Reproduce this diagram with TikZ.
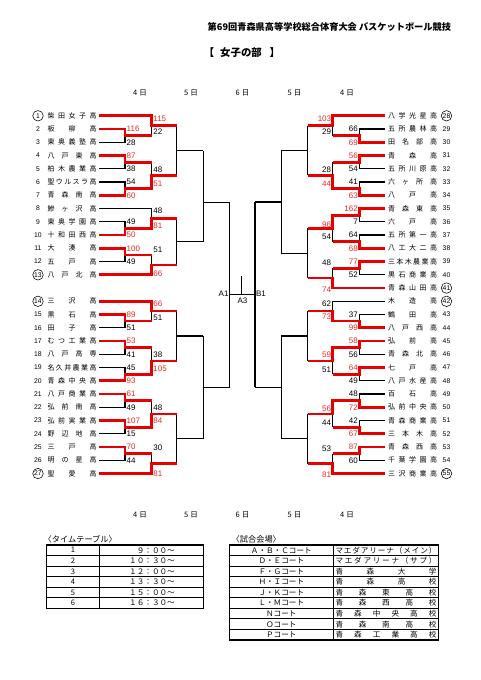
\documentclass[tikz,border=0pt]{standalone}
\usepackage{fontspec}
\setmainfont{Liberation Sans}
\newfontfamily\jp{Noto Sans CJK JP}
\definecolor{wr}{RGB}{232,0,0}
\definecolor{sr}{RGB}{238,40,40}
\def\spr#1{\sprA#1\sprEnd}
\def\sprA#1#2\sprEnd{#1\ifx\relax#2\relax\else\hfill\sprA#2\sprEnd\fi}
\newcommand\sprx[1]{\expandafter\spr\expandafter{#1}}
\newcommand\nmL[1]{\makebox[49pt][s]{\spr{#1}}}
\tikzset{
  bl/.style={line width=1.2pt, draw=black},
  rd/.style={line width=2.7pt, draw=wr, line join=miter},
  tnum/.style={font=\fontsize{6.8}{7}\selectfont, inner sep=0pt},
  cnum/.style={draw, circle, line width=0.55pt, minimum size=10.5pt, inner sep=0.3pt},
  tname/.style={font=\jp\fontsize{7}{8}\selectfont, inner sep=0pt},
  labanc/.style={anchor=west},
  lab/.style={font=\fontsize{8}{8}\selectfont, inner sep=0pt, labanc},
  rs/.style={text=sr},
  day/.style={font=\jp\fontsize{7.5}{8}\selectfont, inner sep=0pt},
  tbl/.style={line width=0.8pt, draw=black},
  tblo/.style={line width=1.1pt, draw=black},
  ttxt/.style={font=\jp\fontsize{7.6}{8}\selectfont, inner sep=0pt},
  subt/.style={font=\jp\bfseries\fontsize{10.4}{11}\selectfont, inner sep=0pt},
}
\def\xs{99.3}\def\xa{125}\def\xb{151.7}\def\xc{176.7}\def\xd{203.3}\def\xe{229.5}
\newcommand\team[3]{\node[tnum] (n#1) at (38,#3) {#1};\node[tname] (t#1) at (72,#3) {\nmL{#2}};}
\newcommand\cteam[3]{\node[tnum,cnum] (n#1) at (38,#3) {#1};\node[tname] (t#1) at (72,#3) {\nmL{#2}};}
\newcommand\bye[1]{\draw[bl] (\xs,#1) -- (\xb,#1);}
\newcommand\rone[3]{\draw[bl] (\xs,#1) -- (\xa,#1) -- (\xa,#2) -- (\xs,#2) (\xa,#3) -- (\xb,#3);}
\newcommand\rtwo[3]{\draw[bl] (\xb,#1) -- (\xb,#2) (\xb,#3) -- (\xc,#3);}
\newcommand\rthree[3]{\draw[bl] (\xc,#1) -- (\xc,#2) (\xc,#3) -- (\xd,#3);}
\newcommand\rfour[3]{\draw[bl] (\xd,#1) -- (\xd,#2) (\xd,#3) -- (\xe,#3);}
\newcommand\sa[2]{\node[lab] at (\xa+1.5,#1) {#2};}
\newcommand\sar[2]{\node[lab,rs] at (\xa+1.5,#1) {#2};}
\newcommand\sbb[2]{\node[lab] at (\xb+1.5,#1) {#2};}
\newcommand\sbr[2]{\node[lab,rs] at (\xb+1.5,#1) {#2};}
\begin{document}
\begin{tikzpicture}[x=1pt,y=-1pt]
\useasboundingbox (0,0) rectangle (481,680);
\fill[white] (0,0) rectangle (481,680);
% titles
\node[anchor=west, font=\jp\bfseries\fontsize{9.2}{10}\selectfont, inner sep=0pt] (title) at (207.5,26.7) {第69回青森県高等学校総合体育大会 バスケットボール競技};
\node[subt, anchor=west] (sub) at (220,52.7) {女子の部};
\node[subt, anchor=east] (subl) at (214.5,52.7) {【};
\node[subt, anchor=west] (subr) at (269.5,52.7) {】};
\foreach \x/\dd [count=\i] in {140/4,191/5,242.5/6,294.5/5,347/4}{
  \node[day] (dt\i) at (\x,93.3) {\dd\hspace{2pt}日};
  \node[day] (db\i) at (\x,515) {\dd\hspace{2pt}日};
}
% ================= LEFT SIDE =================
\begin{scope}
\cteam{1}{柴田女子高}{115.8}
\team{2}{板柳高}{129.05}
\team{3}{東奥義塾高}{142.3}
\team{4}{八戸東高}{155.55}
\team{5}{柏木農業高}{168.8}
\team{6}{聖ウルスラ高}{182.05}
\team{7}{青森南高}{195.3}
\team{8}{鰺ヶ沢高}{208.55}
\team{9}{東奥学園高}{221.8}
\team{10}{十和田西高}{235.05}
\team{11}{大湊高}{248.3}
\team{12}{五戸高}{261.55}
\cteam{13}{八戸北高}{274.8}
\cteam{14}{三沢高}{301.3}
\team{15}{黒石高}{314.55}
\team{16}{田子高}{327.8}
\team{17}{むつ工業高}{341.05}
\team{18}{八戸高専}{354.3}
\team{19}{名久井農業高}{367.55}
\team{20}{青森中央高}{380.8}
\team{21}{八戸商業高}{394.05}
\team{22}{弘前南高}{407.3}
\team{23}{弘前実業高}{420.55}
\team{24}{野辺地高}{433.8}
\team{25}{三戸高}{447.05}
\team{26}{明の星高}{460.3}
\cteam{27}{聖愛高}{473.55}
% black lines top
\bye{115.8}
\rone{129.05}{142.3}{135.675}
\rone{155.55}{168.8}{162.175}
\rone{182.05}{195.3}{188.675}
\bye{208.55}
\rone{221.8}{235.05}{228.425}
\rone{248.3}{261.55}{254.925}
\bye{274.8}
\rtwo{115.8}{135.675}{125.74}
\rtwo{162.175}{188.675}{175.425}
\rtwo{208.55}{228.425}{218.49}
\rtwo{254.925}{274.8}{264.86}
\rthree{125.74}{175.425}{150.58}
\rthree{218.49}{264.86}{241.68}
\rfour{150.58}{241.68}{202.5}
% black lines bottom
\bye{301.3}
\rone{314.55}{327.8}{320.925}
\rone{341.05}{354.3}{347.675}
\rone{367.55}{380.8}{374.175}
\rone{394.05}{407.3}{400.675}
\rone{420.55}{433.8}{427.175}
\rone{447.05}{460.3}{453.675}
\bye{473.55}
\rtwo{301.3}{320.925}{311.11}
\rtwo{347.675}{374.175}{360.925}
\rtwo{400.675}{427.175}{413.925}
\rtwo{453.675}{473.55}{463.61}
\rthree{311.11}{360.925}{336.02}
\rthree{413.925}{463.61}{438.77}
\rfour{336.02}{438.77}{387.39}
\draw[bl] (\xe,202.5) -- (\xe,387.39);
% red winner paths
\draw[rd] (\xs,115.8) -- (\xb,115.8) -- (\xb,125.74) -- (\xc,125.74);
\draw[rd] (\xs,129.05) -- (\xa,129.05) -- (\xa,135.675) -- (\xb,135.675);
\draw[rd] (\xs,155.55) -- (\xa,155.55) -- (\xa,162.175) -- (\xb,162.175);
\draw[rd] (\xs,195.3) -- (\xa,195.3) -- (\xa,188.675) -- (\xb,188.675) -- (\xb,175.425) -- (\xc,175.425);
\draw[rd] (\xs,235.05) -- (\xa,235.05) -- (\xa,228.425) -- (\xb,228.425) -- (\xb,218.49) -- (\xc,218.49);
\draw[rd] (\xs,248.3) -- (\xa,248.3) -- (\xa,254.925) -- (\xb,254.925);
\draw[rd] (\xs,274.8) -- (\xb,274.8) -- (\xb,264.86) -- (\xc,264.86);
\draw[rd] (\xs,301.3) -- (\xb,301.3) -- (\xb,311.11) -- (\xc,311.11);
\draw[rd] (\xs,314.55) -- (\xa,314.55) -- (\xa,320.925) -- (\xb,320.925);
\draw[rd] (\xs,341.05) -- (\xa,341.05) -- (\xa,347.675) -- (\xb,347.675);
\draw[rd] (\xs,380.8) -- (\xa,380.8) -- (\xa,374.175) -- (\xb,374.175) -- (\xb,360.925) -- (\xc,360.925);
\draw[rd] (\xs,394.05) -- (\xa,394.05) -- (\xa,400.675) -- (\xb,400.675);
\draw[rd] (\xs,420.55) -- (\xa,420.55) -- (\xa,427.175) -- (\xb,427.175) -- (\xb,413.925) -- (\xc,413.925);
\draw[rd] (\xs,447.05) -- (\xa,447.05) -- (\xa,453.675) -- (\xb,453.675);
\draw[rd] (\xs,473.55) -- (\xb,473.55) -- (\xb,463.61) -- (\xc,463.61);
% scores R1
\sar{129.05}{116}\sa{142.3}{28}
\sar{155.55}{87}\sa{168.8}{38}
\sa{182.05}{54}\sar{195.3}{60}
\sa{221.8}{49}\sar{235.05}{50}
\sar{248.3}{100}\sa{261.55}{49}
\sar{314.55}{89}\sa{327.8}{51}
\sar{341.05}{53}\sa{354.3}{41}
\sa{367.55}{45}\sar{380.8}{93}
\sar{394.05}{61}\sa{407.3}{49}
\sar{420.55}{107}\sa{433.8}{15}
\sar{447.05}{70}\sa{460.3}{44}
% scores R2
\sbr{118.3}{115}\sbb{131.7}{22}
\sbb{170}{48}\sbr{183.3}{51}
\sbb{210.3}{48}\sbr{225.3}{81}
\sbb{249.3}{51}\sbr{274}{66}
\sbr{304}{66}\sbb{317.3}{51}
\sbb{355}{38}\sbr{368.3}{105}
\sbb{407.7}{48}\sbr{421}{84}
\sbb{447.7}{30}\sbr{473.3}{81}
\end{scope}
% ================= RIGHT SIDE (mirrored) =================
\begin{scope}[shift={(484.5,0)}, xscale=-1, labanc/.style={anchor=east}]
\cteam{28}{八学光星高}{115.8}
\team{29}{五所農林高}{129.05}
\team{30}{田名部高}{142.3}
\team{31}{青森高}{155.55}
\team{32}{五所川原高}{168.8}
\team{33}{六ヶ所高}{182.05}
\team{34}{八戸高}{195.3}
\team{35}{青森東高}{208.55}
\team{36}{六戸高}{221.8}
\team{37}{五所第一高}{235.05}
\team{38}{八工大二高}{248.3}
\team{39}{三本木農業高}{261.55}
\team{40}{黒石商業高}{274.8}
\cteam{41}{青森山田高}{288.05}
\cteam{42}{木造高}{301.3}
\team{43}{鶴田高}{314.55}
\team{44}{八戸西高}{327.8}
\team{45}{弘前高}{341.05}
\team{46}{青森北高}{354.3}
\team{47}{七戸高}{367.55}
\team{48}{八戸水産高}{380.8}
\team{49}{百石高}{394.05}
\team{50}{弘前中央高}{407.3}
\team{51}{青森商業高}{420.55}
\team{52}{三本木高}{433.8}
\team{53}{青森西高}{447.05}
\team{54}{千葉学園高}{460.3}
\cteam{55}{三沢商業高}{473.55}
% black lines top
\bye{115.8}
\rone{129.05}{142.3}{135.675}
\rone{155.55}{168.8}{162.175}
\rone{182.05}{195.3}{188.675}
\rone{208.55}{221.8}{215.175}
\rone{235.05}{248.3}{241.675}
\rone{261.55}{274.8}{268.175}
\bye{288.05}
\rtwo{115.8}{135.675}{125.74}
\rtwo{162.175}{188.675}{175.425}
\rtwo{215.175}{241.675}{228.425}
\rtwo{268.175}{288.05}{278.11}
\rthree{125.74}{175.425}{150.58}
\rthree{228.425}{278.11}{253.27}
\rfour{150.58}{253.27}{201.92}
% black lines bottom
\bye{301.3}
\rone{314.55}{327.8}{320.925}
\rone{341.05}{354.3}{347.675}
\rone{367.55}{380.8}{374.175}
\rone{394.05}{407.3}{400.675}
\rone{420.55}{433.8}{427.175}
\rone{447.05}{460.3}{453.675}
\bye{473.55}
\rtwo{301.3}{320.925}{311.11}
\rtwo{347.675}{374.175}{360.925}
\rtwo{400.675}{427.175}{413.925}
\rtwo{453.675}{473.55}{463.61}
\rthree{311.11}{360.925}{336.02}
\rthree{413.925}{463.61}{438.77}
\rfour{336.02}{438.77}{387.39}
\draw[bl] (\xe,201.92) -- (\xe,387.39);
% red winner paths
\draw[rd] (\xs,115.8) -- (\xb,115.8) -- (\xb,125.74) -- (\xc,125.74);
\draw[rd] (\xs,142.3) -- (\xa,142.3) -- (\xa,135.675) -- (\xb,135.675);
\draw[rd] (\xs,155.55) -- (\xa,155.55) -- (\xa,162.175) -- (\xb,162.175);
\draw[rd] (\xs,195.3) -- (\xa,195.3) -- (\xa,188.675) -- (\xb,188.675) -- (\xb,175.425) -- (\xc,175.425);
\draw[rd] (\xs,208.55) -- (\xa,208.55) -- (\xa,215.175) -- (\xb,215.175) -- (\xb,228.425) -- (\xc,228.425);
\draw[rd] (\xs,248.3) -- (\xa,248.3) -- (\xa,241.675) -- (\xb,241.675);
\draw[rd] (\xs,261.55) -- (\xa,261.55) -- (\xa,268.175) -- (\xb,268.175);
\draw[rd] (\xs,288.05) -- (\xb,288.05) -- (\xb,278.11) -- (\xc,278.11);
\draw[rd] (\xs,327.8) -- (\xa,327.8) -- (\xa,320.925) -- (\xb,320.925) -- (\xb,311.11) -- (\xc,311.11);
\draw[rd] (\xs,341.05) -- (\xa,341.05) -- (\xa,347.675) -- (\xb,347.675) -- (\xb,360.925) -- (\xc,360.925);
\draw[rd] (\xs,367.55) -- (\xa,367.55) -- (\xa,374.175) -- (\xb,374.175);
\draw[rd] (\xs,407.3) -- (\xa,407.3) -- (\xa,400.675) -- (\xb,400.675) -- (\xb,413.925) -- (\xc,413.925);
\draw[rd] (\xs,433.8) -- (\xa,433.8) -- (\xa,427.175) -- (\xb,427.175);
\draw[rd] (\xs,447.05) -- (\xa,447.05) -- (\xa,453.675) -- (\xb,453.675);
\draw[rd] (\xs,473.55) -- (\xb,473.55) -- (\xb,463.61) -- (\xc,463.61);
% scores R1
\sa{129.05}{66}\sar{142.3}{69}
\sar{155.55}{56}\sa{168.8}{54}
\sa{182.05}{41}\sar{195.3}{63}
\sar{208.55}{162}\sa{221.8}{7}
\sa{235.05}{64}\sar{248.3}{68}
\sar{261.55}{77}\sa{274.8}{52}
\sa{314.55}{37}\sar{327.8}{99}
\sar{341.05}{58}\sa{354.3}{56}
\sar{367.55}{64}\sa{380.8}{49}
\sa{394.05}{48}\sar{407.3}{72}
\sa{420.55}{42}\sar{433.8}{67}
\sar{447.05}{87}\sa{460.3}{60}
% scores R2
\sbr{118.3}{103}\sbb{131.7}{29}
\sbb{170}{28}\sbr{183.3}{44}
\sbr{225}{96}\sbb{237}{54}
\sbb{262.7}{48}\sbr{290}{74}
\sbb{304}{62}\sbr{316.7}{73}
\sbr{355}{59}\sbb{369.3}{51}
\sbr{408.3}{56}\sbb{422.7}{44}
\sbb{448.3}{53}\sbr{475}{81}
\end{scope}
% ================= FINAL =================
\coordinate (A1) at (229.5,294.3);
\coordinate (B1) at (255,294.3);
\coordinate (A3top) at (241.3,276);
\coordinate (A3) at (241.3,294.3);
\draw[bl] (A1) -- (B1);
\draw[bl] (A3top) -- (A3);
\node[lab, anchor=east] (lA1) at (228.7,294) {A1};
\node[lab, anchor=west] (lB1) at (255.8,293.3) {B1};
\node[lab, anchor=center] (lA3) at (242.5,301) {A3};
% ================= TIME TABLE =================
\node[ttxt, anchor=west, font=\jp\fontsize{8.2}{9}\selectfont] (tth) at (43.5,539.3) {〈タイムテーブル〉};
\draw[tblo] (46.7,545) rectangle (203.3,608.4);
\foreach \i in {1,...,5}{\draw[tbl] (46.7,{545+\i*10.567}) -- (203.3,{545+\i*10.567});}
\draw[tblo] (99.3,545) -- (99.3,608.4);
\foreach \n/\t [count=\i] in {1/９：００～,2/１０：３０～,3/１２：００～,4/１３：３０～,5/１５：００～,6/１６：３０～}{
  \node[ttxt] (tn\i) at (73,{545+(\i-0.5)*10.567}) {\n};
  \node[ttxt, anchor=east] (tt\i) at (175,{545+(\i-0.5)*10.567}) {\t};
}
% ================= VENUE TABLE =================
\node[ttxt, anchor=west, font=\jp\fontsize{8.2}{9}\selectfont] (vh) at (231.5,539.3) {〈試合会場〉};
\draw[tblo] (229.3,545) rectangle (438.3,640);
\foreach \i in {1,...,8}{\draw[tbl] (229.3,{545+\i*10.556}) -- (438.3,{545+\i*10.556});}
\draw[tblo] (333.3,545) -- (333.3,640);
\foreach \c/\v [count=\i] in {Ａ・Ｂ・Ｃコート/マエダアリーナ（メイン）,Ｄ・Ｅコート/マエダアリーナ（サブ）,Ｆ・Ｇコート/青森大学,Ｈ・Ｉコート/青森高校,Ｊ・Ｋコート/青森東高校,Ｌ・Ｍコート/青森西高校,Ｎコート/青森中央高校,Ｏコート/青森南高校,Ｐコート/青森工業高校}{
  \node[ttxt] (vc\i) at (281.3,{545+(\i-0.5)*10.556}) {\c};
  \node[ttxt] (vv\i) at (386,{545+(\i-0.5)*10.556}) {\makebox[101pt][s]{\sprx{\v}}};
}
\end{tikzpicture}
\end{document}
